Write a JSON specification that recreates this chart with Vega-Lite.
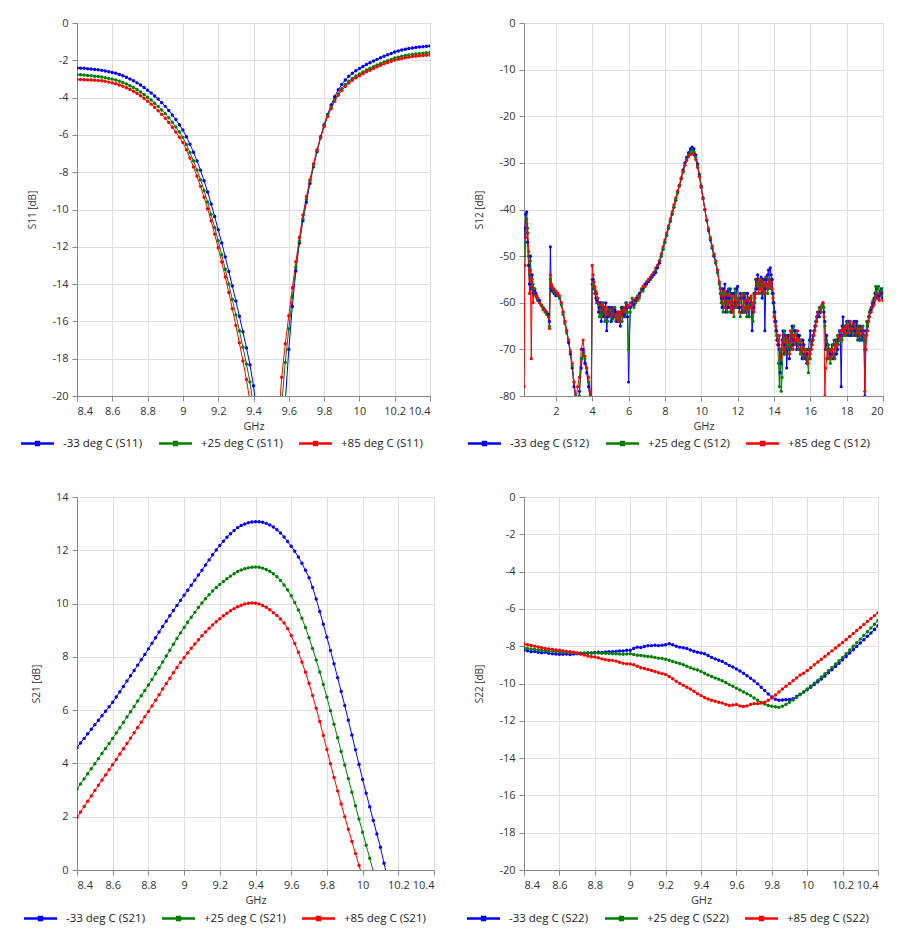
{
"$schema": "https://vega.github.io/schema/vega-lite/v6.json",
"background": "white",
"padding": {"left": 20, "top": 16, "right": 4, "bottom": 0},
"columns": 2,
"spacing": {"row": 40, "column": 31},
"resolve": {"scale": {"color": "independent", "x": "independent", "y": "independent"}, "legend": {"color": "independent"}},
"config": {
  "font": "Open Sans",
  "view": {"stroke": "#999", "strokeWidth": 1},
  "axis": {"labelFont": "Open Sans", "labelFontSize": 11, "labelColor": "#333", "titleFont": "Open Sans", "titleFontSize": 11, "titleFontWeight": "normal", "titleColor": "#333", "gridColor": "#dedede", "gridWidth": 1, "domainColor": "#888", "tickColor": "#888", "tickSize": 5, "labelPadding": 4, "labelExpr": "replace(datum.label, '−', '-')"},
  "axisY": {"titleFontSize": 10, "titlePadding": 14},
  "axisX": {"titlePadding": 4},
  "legend": {"labelFont": "Open Sans", "labelFontSize": 11.5, "labelColor": "#222", "labelOffset": 9, "columnPadding": 16}
},
"concat": [
{
  "width": 353, "height": 373,
  "data": {"values": [
{"f":8.40,"a":-2.41,"b":-2.77,"c":-3.03},{"f":8.42,"a":-2.42,"b":-2.78,"c":-3.03},{"f":8.44,"a":-2.43,"b":-2.79,"c":-3.04},{"f":8.46,"a":-2.45,"b":-2.81,"c":-3.05},{"f":8.48,"a":-2.47,"b":-2.83,"c":-3.06},{"f":8.50,"a":-2.49,"b":-2.85,"c":-3.07},{"f":8.52,"a":-2.51,"b":-2.87,"c":-3.08},{"f":8.54,"a":-2.54,"b":-2.90,"c":-3.10},{"f":8.56,"a":-2.57,"b":-2.93,"c":-3.13},{"f":8.58,"a":-2.61,"b":-2.97,"c":-3.17},
{"f":8.60,"a":-2.65,"b":-3.01,"c":-3.21},{"f":8.62,"a":-2.70,"b":-3.06,"c":-3.26},{"f":8.64,"a":-2.76,"b":-3.12,"c":-3.32},{"f":8.66,"a":-2.83,"b":-3.19,"c":-3.39},{"f":8.68,"a":-2.91,"b":-3.27,"c":-3.47},{"f":8.70,"a":-3.00,"b":-3.36,"c":-3.56},{"f":8.72,"a":-3.10,"b":-3.46,"c":-3.66},{"f":8.74,"a":-3.21,"b":-3.57,"c":-3.77},{"f":8.76,"a":-3.33,"b":-3.70,"c":-3.90},{"f":8.78,"a":-3.46,"b":-3.83,"c":-4.04},
{"f":8.80,"a":-3.60,"b":-3.98,"c":-4.19},{"f":8.82,"a":-3.75,"b":-4.13,"c":-4.35},{"f":8.84,"a":-3.91,"b":-4.30,"c":-4.52},{"f":8.86,"a":-4.08,"b":-4.47,"c":-4.70},{"f":8.88,"a":-4.27,"b":-4.66,"c":-4.90},{"f":8.90,"a":-4.47,"b":-4.86,"c":-5.11},{"f":8.92,"a":-4.69,"b":-5.08,"c":-5.34},{"f":8.94,"a":-4.93,"b":-5.32,"c":-5.59},{"f":8.96,"a":-5.18,"b":-5.58,"c":-5.85},{"f":8.98,"a":-5.45,"b":-5.85,"c":-6.12},
{"f":9.00,"a":-5.74,"b":-6.14,"c":-6.41},{"f":9.02,"a":-6.10,"b":-6.52,"c":-6.80},{"f":9.04,"a":-6.50,"b":-6.94,"c":-7.24},{"f":9.06,"a":-6.93,"b":-7.39,"c":-7.72},{"f":9.08,"a":-7.40,"b":-7.88,"c":-8.22},{"f":9.10,"a":-7.90,"b":-8.40,"c":-8.76},{"f":9.12,"a":-8.46,"b":-8.98,"c":-9.34},{"f":9.14,"a":-9.06,"b":-9.60,"c":-9.96},{"f":9.16,"a":-9.70,"b":-10.26,"c":-10.62},{"f":9.18,"a":-10.38,"b":-10.96,"c":-11.32},
{"f":9.20,"a":-11.08,"b":-11.68,"c":-12.05},{"f":9.22,"a":-11.80,"b":-12.43,"c":-12.82},{"f":9.24,"a":-12.55,"b":-13.20,"c":-13.62},{"f":9.26,"a":-13.32,"b":-14.00,"c":-14.45},{"f":9.28,"a":-14.10,"b":-14.82,"c":-15.32},{"f":9.30,"a":-14.90,"b":-15.65,"c":-16.22},{"f":9.32,"a":-15.72,"b":-16.50,"c":-17.15},{"f":9.34,"a":-16.56,"b":-17.38,"c":-18.12},{"f":9.36,"a":-17.42,"b":-18.28,"c":-19.12},{"f":9.38,"a":-18.32,"b":-19.25,"c":-20.3},
{"f":9.40,"a":-19.45,"b":-20.6,"c":-23},{"f":9.42,"a":-21,"b":-23,"c":-26},{"f":9.44,"a":-23,"b":-26,"c":-29},{"f":9.46,"a":-26,"b":-29,"c":-31},{"f":9.48,"a":-29,"b":-31,"c":-32},{"f":9.50,"a":-30,"b":-30,"c":-30},{"f":9.52,"a":-28,"b":-27,"c":-26},{"f":9.54,"a":-25,"b":-23,"c":-21.5},{"f":9.56,"a":-22.5,"b":-20.4,"c":-19.0},{"f":9.58,"a":-20.3,"b":-18.2,"c":-17.2},
{"f":9.60,"a":-17.5,"b":-16.4,"c":-15.7},{"f":9.62,"a":-15.2,"b":-14.7,"c":-14.2},{"f":9.64,"a":-13.3,"b":-13.1,"c":-12.8},{"f":9.66,"a":-11.8,"b":-11.7,"c":-11.5},{"f":9.68,"a":-10.6,"b":-10.5,"c":-10.3},{"f":9.70,"a":-9.6,"b":-9.45,"c":-9.3},{"f":9.72,"a":-8.6,"b":-8.5,"c":-8.4},{"f":9.74,"a":-7.7,"b":-7.65,"c":-7.55},{"f":9.76,"a":-6.9,"b":-6.85,"c":-6.8},{"f":9.78,"a":-6.1,"b":-6.15,"c":-6.15},
{"f":9.80,"a":-5.45,"b":-5.5,"c":-5.55},{"f":9.82,"a":-4.9,"b":-4.95,"c":-5.02},{"f":9.84,"a":-4.4,"b":-4.5,"c":-4.58},{"f":9.86,"a":-3.95,"b":-4.12,"c":-4.2},{"f":9.88,"a":-3.58,"b":-3.8,"c":-3.88},{"f":9.90,"a":-3.30,"b":-3.52,"c":-3.62},{"f":9.92,"a":-3.06,"b":-3.3,"c":-3.4},{"f":9.94,"a":-2.86,"b":-3.12,"c":-3.22},{"f":9.96,"a":-2.70,"b":-2.97,"c":-3.07},{"f":9.98,"a":-2.56,"b":-2.84,"c":-2.94},
{"f":10.00,"a":-2.44,"b":-2.73,"c":-2.83},{"f":10.02,"a":-2.33,"b":-2.62,"c":-2.72},{"f":10.04,"a":-2.23,"b":-2.52,"c":-2.62},{"f":10.06,"a":-2.13,"b":-2.43,"c":-2.53},{"f":10.08,"a":-2.04,"b":-2.34,"c":-2.44},{"f":10.10,"a":-1.95,"b":-2.25,"c":-2.35},{"f":10.12,"a":-1.86,"b":-2.17,"c":-2.27},{"f":10.14,"a":-1.78,"b":-2.09,"c":-2.19},{"f":10.16,"a":-1.70,"b":-2.02,"c":-2.12},{"f":10.18,"a":-1.63,"b":-1.95,"c":-2.05},
{"f":10.20,"a":-1.56,"b":-1.88,"c":-1.99},{"f":10.22,"a":-1.50,"b":-1.83,"c":-1.94},{"f":10.24,"a":-1.45,"b":-1.78,"c":-1.90},{"f":10.26,"a":-1.41,"b":-1.74,"c":-1.86},{"f":10.28,"a":-1.37,"b":-1.71,"c":-1.83},{"f":10.30,"a":-1.34,"b":-1.68,"c":-1.80},{"f":10.32,"a":-1.31,"b":-1.66,"c":-1.78},{"f":10.34,"a":-1.29,"b":-1.64,"c":-1.76},{"f":10.36,"a":-1.27,"b":-1.62,"c":-1.74},{"f":10.38,"a":-1.25,"b":-1.60,"c":-1.73},{"f":10.40,"a":-1.23,"b":-1.58,"c":-1.72}
  ]},
  "transform": [{"fold": ["a", "b", "c"], "as": ["k", "v"]}],
  "encoding": {
    "x": {"field": "f", "type": "quantitative", "scale": {"domain": [8.4, 10.4], "nice": false, "zero": false}, "axis": {"values": [8.4,8.6,8.8,9,9.2,9.4,9.6,9.8,10,10.2,10.4], "format": "~g", "title": "GHz"}},
    "y": {"field": "v", "type": "quantitative", "scale": {"domain": [-20, 0], "nice": false}, "axis": {"values": [0,-2,-4,-6,-8,-10,-12,-14,-16,-18,-20], "title": "S11 [dB]"}},
    "color": {"field": "k", "type": "nominal", "scale": {"domain": ["a","b","c"], "range": ["#0000ff","#008000","#ff0000"]}, "legend": {"orient": "none", "legendX": -56, "legendY": 404, "direction": "horizontal", "title": null, "symbolType": "M-1,-0.08H1V0.08H-1Z M-0.16,-0.16H0.16V0.16H-0.16Z", "symbolSize": 1089, "symbolStrokeWidth": 0, "labelExpr": "datum.label == 'a' ? '-33 deg C (S11)' : datum.label == 'b' ? '+25 deg C (S11)' : '+85 deg C (S11)'", "encode": {"symbols": {"update": {"fill": {"signal": "datum.value == 'a' ? '#0000ff' : datum.value == 'b' ? '#008000' : '#ff0000'"}, "opacity": {"value": 1}}}}}}
  },
  "layer": [
    {"mark": {"type": "line", "clip": true, "strokeWidth": 1}},
    {"mark": {"type": "point", "clip": true, "filled": true, "size": 12, "opacity": 1}}
  ]
},
{
  "width": 359, "height": 373,
  "data": {"values": [
{"f":0.25,"a":-46,"b":-50,"c":-78},{"f":0.30,"a":-44,"b":-47,"c":-52},{"f":0.35,"a":-41,"b":-45,"c":-46},{"f":0.40,"a":-40.5,"b":-42,"c":-43},{"f":0.45,"a":-47,"b":-44,"c":-45},{"f":0.50,"a":-52,"b":-50,"c":-49},{"f":0.55,"a":-56,"b":-54,"c":-58},{"f":0.60,"a":-50,"b":-51,"c":-53},{"f":0.65,"a":-57,"b":-55,"c":-72},{"f":0.70,"a":-54,"b":-57,"c":-55},{"f":0.75,"a":-58,"b":-56,"c":-60},{"f":0.80,"a":-57,"b":-58,"c":-57},
{"f":0.85,"a":-57.5,"b":-57,"c":-58},{"f":0.9,"a":-58,"b":-58.5,"c":-58.5},{"f":0.95,"a":-58.5,"b":-59,"c":-58.5},{"f":1.0,"a":-59,"b":-59.5,"c":-59},{"f":1.1,"a":-59.5,"b":-60,"c":-60},{"f":1.2,"a":-60.5,"b":-60.5,"c":-60.5},{"f":1.3,"a":-61,"b":-61,"c":-61.5},{"f":1.4,"a":-61.5,"b":-62,"c":-61.5},{"f":1.5,"a":-62,"b":-62.5,"c":-62},{"f":1.6,"a":-62.5,"b":-63,"c":-63},{"f":1.65,"a":-64,"b":-65,"c":-65.5},{"f":1.7,"a":-48,"b":-55,"c":-54},{"f":1.75,"a":-57,"b":-56,"c":-56},
{"f":1.8,"a":-57.5,"b":-57,"c":-56.5},{"f":1.9,"a":-58,"b":-57.5,"c":-57},{"f":2.0,"a":-58.5,"b":-58,"c":-57.5},{"f":2.1,"a":-58,"b":-58.5,"c":-58},{"f":2.2,"a":-59,"b":-59,"c":-58.5},{"f":2.3,"a":-60,"b":-60.5,"c":-60},{"f":2.4,"a":-62,"b":-62.5,"c":-62},{"f":2.5,"a":-64,"b":-64.5,"c":-64},{"f":2.6,"a":-66,"b":-66.5,"c":-66},{"f":2.7,"a":-68.5,"b":-68,"c":-68},{"f":2.8,"a":-71,"b":-70.5,"c":-70.5},{"f":2.9,"a":-74,"b":-73.5,"c":-73},
{"f":3.0,"a":-78,"b":-77,"c":-77},{"f":3.1,"a":-81,"b":-80,"c":-81},{"f":3.2,"a":-82,"b":-81,"c":-78},{"f":3.3,"a":-79,"b":-80,"c":-76},{"f":3.4,"a":-74,"b":-72,"c":-70},{"f":3.5,"a":-70,"b":-71,"c":-68},{"f":3.6,"a":-73,"b":-72,"c":-71.5},{"f":3.7,"a":-75,"b":-74,"c":-74},{"f":3.8,"a":-78,"b":-77,"c":-76},{"f":3.9,"a":-81,"b":-80,"c":-79},{"f":3.95,"a":-82,"b":-81,"c":-81},
{"f":4.0,"a":-56,"b":-55,"c":-52},{"f":4.05,"a":-55,"b":-56,"c":-54},{"f":4.1,"a":-57,"b":-56.5,"c":-55.5},{"f":4.15,"a":-58,"b":-57,"c":-56.5},{"f":4.2,"a":-59,"b":-58,"c":-57.5},{"f":4.25,"a":-59.5,"b":-60,"c":-58},{"f":4.3,"a":-60,"b":-59,"c":-59},{"f":4.35,"a":-62,"b":-60,"c":-60},{"f":4.4,"a":-61,"b":-63,"c":-60},{"f":4.45,"a":-60,"b":-62.5,"c":-61.5},{"f":4.5,"a":-64,"b":-61,"c":-60.5},{"f":4.55,"a":-61,"b":-63,"c":-60},{"f":4.6,"a":-62,"b":-60,"c":-61},{"f":4.65,"a":-63,"b":-61,"c":-62},{"f":4.7,"a":-61,"b":-64,"c":-61},{"f":4.75,"a":-60,"b":-62,"c":-63},{"f":4.8,"a":-66,"b":-62,"c":-62},{"f":4.85,"a":-63,"b":-64,"c":-61},{"f":4.9,"a":-62,"b":-61,"c":-61.5},{"f":4.95,"a":-61,"b":-61.5,"c":-62.5},
{"f":5.0,"a":-62.5,"b":-63,"c":-62},{"f":5.05,"a":-64,"b":-62,"c":-61.5},{"f":5.1,"a":-61,"b":-62,"c":-62.5},{"f":5.15,"a":-62,"b":-63.5,"c":-63},{"f":5.2,"a":-63,"b":-62,"c":-61},{"f":5.25,"a":-61.5,"b":-61,"c":-62},{"f":5.3,"a":-62,"b":-64,"c":-63},{"f":5.35,"a":-64,"b":-62.5,"c":-64},{"f":5.4,"a":-64,"b":-62,"c":-62.5},{"f":5.45,"a":-62,"b":-64,"c":-62},{"f":5.5,"a":-63,"b":-63,"c":-64},{"f":5.55,"a":-65,"b":-62,"c":-63},{"f":5.6,"a":-62,"b":-61,"c":-62},{"f":5.65,"a":-61,"b":-64,"c":-62.5},{"f":5.7,"a":-61,"b":-63,"c":-61.5},{"f":5.75,"a":-62.5,"b":-61,"c":-63},{"f":5.8,"a":-63,"b":-62,"c":-61},{"f":5.85,"a":-60,"b":-63,"c":-61.5},{"f":5.9,"a":-61,"b":-60,"c":-62},{"f":5.95,"a":-63,"b":-62,"c":-60.5},
{"f":6.0,"a":-77,"b":-70,"c":-61},{"f":6.1,"a":-61,"b":-62,"c":-60},{"f":6.2,"a":-60,"b":-59,"c":-60.5},{"f":6.3,"a":-60.5,"b":-61,"c":-59.5},{"f":6.4,"a":-59.5,"b":-60,"c":-59},{"f":6.5,"a":-59,"b":-58.5,"c":-59.5},{"f":6.6,"a":-58,"b":-59,"c":-58.5},{"f":6.7,"a":-57.5,"b":-57,"c":-57.5},{"f":6.8,"a":-57,"b":-57.5,"c":-56.5},{"f":6.9,"a":-56,"b":-56.5,"c":-56.5},
{"f":7.0,"a":-56,"b":-55.5,"c":-55.5},{"f":7.1,"a":-55.5,"b":-55,"c":-55},{"f":7.2,"a":-55,"b":-54.5,"c":-54.5},{"f":7.3,"a":-54.5,"b":-54,"c":-54},{"f":7.4,"a":-54,"b":-53.5,"c":-53.5},{"f":7.5,"a":-53.5,"b":-53,"c":-52.5},{"f":7.6,"a":-52.5,"b":-52,"c":-52},{"f":7.7,"a":-51.5,"b":-51,"c":-51},{"f":7.8,"a":-50,"b":-50,"c":-49.5},{"f":7.9,"a":-48.5,"b":-48.5,"c":-48},
{"f":8.0,"a":-47,"b":-47,"c":-46.5},{"f":8.1,"a":-45.5,"b":-45.5,"c":-45},{"f":8.2,"a":-44,"b":-44,"c":-43.5},{"f":8.3,"a":-42.5,"b":-42.5,"c":-42},{"f":8.4,"a":-41,"b":-41,"c":-40.5},{"f":8.5,"a":-39.5,"b":-39.5,"c":-39},{"f":8.6,"a":-38,"b":-38,"c":-37.5},{"f":8.7,"a":-36.3,"b":-36.5,"c":-36},{"f":8.8,"a":-34.8,"b":-35,"c":-34.8},{"f":8.9,"a":-33.2,"b":-33.5,"c":-33.3},
{"f":9.0,"a":-31.5,"b":-32,"c":-31.8},{"f":9.1,"a":-30,"b":-30.5,"c":-30.5},{"f":9.2,"a":-28.8,"b":-29.3,"c":-29.5},{"f":9.3,"a":-27.8,"b":-28.3,"c":-28.7},{"f":9.4,"a":-27,"b":-27.6,"c":-28.2},{"f":9.5,"a":-26.6,"b":-27.3,"c":-28},{"f":9.6,"a":-27,"b":-27.6,"c":-28.3},{"f":9.7,"a":-28.3,"b":-28.8,"c":-29.3},{"f":9.8,"a":-30.2,"b":-30.6,"c":-31},{"f":9.9,"a":-32.5,"b":-32.8,"c":-33},
{"f":10.0,"a":-35,"b":-35.2,"c":-35.3},{"f":10.1,"a":-37.5,"b":-37.6,"c":-37.7},{"f":10.2,"a":-40,"b":-40,"c":-40},{"f":10.3,"a":-42.3,"b":-42.3,"c":-42.2},{"f":10.4,"a":-44.5,"b":-44.3,"c":-44.2},{"f":10.5,"a":-46.5,"b":-46.3,"c":-46},{"f":10.6,"a":-48.3,"b":-48.2,"c":-47.8},{"f":10.7,"a":-50,"b":-49.8,"c":-49.5},{"f":10.8,"a":-51.5,"b":-51.5,"c":-51},{"f":10.9,"a":-53.5,"b":-53.5,"c":-53},
{"f":11.0,"a":-56,"b":-56,"c":-55.5},{"f":11.05,"a":-57,"b":-58,"c":-57},{"f":11.1,"a":-59,"b":-60,"c":-58.5},{"f":11.15,"a":-61,"b":-57,"c":-60},{"f":11.2,"a":-57,"b":-62,"c":-59},{"f":11.25,"a":-59,"b":-60,"c":-57.5},{"f":11.3,"a":-56,"b":-58,"c":-61},{"f":11.35,"a":-62,"b":-59,"c":-59},{"f":11.4,"a":-59,"b":-61,"c":-58},{"f":11.45,"a":-57.5,"b":-62,"c":-61},{"f":11.5,"a":-61,"b":-57,"c":-60},{"f":11.55,"a":-59,"b":-58,"c":-58.5},{"f":11.6,"a":-57,"b":-60,"c":-62},{"f":11.65,"a":-60,"b":-62,"c":-60},{"f":11.7,"a":-62,"b":-59,"c":-58},{"f":11.75,"a":-58,"b":-60,"c":-62},{"f":11.8,"a":-58,"b":-63,"c":-60},{"f":11.85,"a":-61,"b":-57,"c":-58.5},{"f":11.9,"a":-60,"b":-58,"c":-61},{"f":11.95,"a":-57,"b":-61,"c":-60},
{"f":12.0,"a":-56.5,"b":-61,"c":-59},{"f":12.05,"a":-60,"b":-59,"c":-61},{"f":12.1,"a":-61,"b":-60,"c":-62},{"f":12.15,"a":-58,"b":-63,"c":-59},{"f":12.2,"a":-59,"b":-62,"c":-58.5},{"f":12.25,"a":-61,"b":-59,"c":-62},{"f":12.3,"a":-62,"b":-58,"c":-61},{"f":12.35,"a":-59,"b":-62,"c":-58},{"f":12.4,"a":-58,"b":-61,"c":-60},{"f":12.45,"a":-62,"b":-58,"c":-61},{"f":12.5,"a":-60,"b":-63,"c":-62},{"f":12.55,"a":-58,"b":-61,"c":-59.5},{"f":12.6,"a":-63,"b":-59,"c":-59},{"f":12.65,"a":-61,"b":-63,"c":-61},{"f":12.7,"a":-59,"b":-60.5,"c":-61},{"f":12.75,"a":-60,"b":-59,"c":-58.5},{"f":12.8,"a":-66,"b":-62,"c":-60},{"f":12.85,"a":-62,"b":-64,"c":-61.5},{"f":12.9,"a":-61,"b":-58,"c":-62},{"f":12.95,"a":-58,"b":-60,"c":-59},
{"f":13.0,"a":-55,"b":-57,"c":-58},{"f":13.05,"a":-57,"b":-55,"c":-56},{"f":13.1,"a":-54,"b":-56,"c":-55},{"f":13.15,"a":-55,"b":-58,"c":-58},{"f":13.2,"a":-57,"b":-55,"c":-57},{"f":13.25,"a":-56,"b":-56,"c":-55},{"f":13.3,"a":-54.5,"b":-58,"c":-56},{"f":13.35,"a":-59,"b":-55,"c":-57.5},{"f":13.4,"a":-58,"b":-56,"c":-55},{"f":13.45,"a":-55,"b":-58,"c":-56},{"f":13.5,"a":-66,"b":-57,"c":-58},{"f":13.55,"a":-57,"b":-56,"c":-54.5},{"f":13.6,"a":-55,"b":-54.5,"c":-56},{"f":13.65,"a":-54,"b":-58,"c":-57},{"f":13.7,"a":-53,"b":-57,"c":-55},{"f":13.75,"a":-56,"b":-55,"c":-56},{"f":13.8,"a":-52.5,"b":-55,"c":-56.5},{"f":13.85,"a":-54,"b":-57,"c":-55},{"f":13.9,"a":-55,"b":-58,"c":-57},{"f":13.95,"a":-58,"b":-60,"c":-59},
{"f":14.0,"a":-60,"b":-62,"c":-63},{"f":14.05,"a":-62,"b":-64,"c":-64},{"f":14.1,"a":-64,"b":-66,"c":-65},{"f":14.15,"a":-66,"b":-68,"c":-67},{"f":14.2,"a":-68,"b":-67,"c":-69},{"f":14.25,"a":-69,"b":-73,"c":-68},{"f":14.3,"a":-70,"b":-78,"c":-67},{"f":14.35,"a":-75,"b":-70,"c":-72},{"f":14.4,"a":-73,"b":-79,"c":-70},{"f":14.45,"a":-68,"b":-76,"c":-69},{"f":14.5,"a":-66,"b":-70,"c":-68},{"f":14.55,"a":-71,"b":-68,"c":-67},{"f":14.6,"a":-69,"b":-66,"c":-71},{"f":14.65,"a":-67,"b":-71,"c":-70},{"f":14.7,"a":-74,"b":-69,"c":-67},{"f":14.75,"a":-70,"b":-67,"c":-68},{"f":14.8,"a":-67,"b":-70,"c":-69},{"f":14.85,"a":-72,"b":-69,"c":-71},{"f":14.9,"a":-70,"b":-67,"c":-66},{"f":14.95,"a":-68,"b":-70,"c":-67},
{"f":15.0,"a":-65,"b":-68,"c":-68},{"f":15.05,"a":-69,"b":-66,"c":-70},{"f":15.1,"a":-68,"b":-65,"c":-67},{"f":15.15,"a":-66,"b":-69,"c":-68},{"f":15.2,"a":-66,"b":-69,"c":-69},{"f":15.25,"a":-70,"b":-67,"c":-67},{"f":15.3,"a":-69,"b":-67,"c":-66},{"f":15.35,"a":-67,"b":-69,"c":-70},{"f":15.4,"a":-67,"b":-70,"c":-68},{"f":15.45,"a":-69,"b":-71,"c":-68},{"f":15.5,"a":-70,"b":-68,"c":-70},{"f":15.55,"a":-72,"b":-68,"c":-71},{"f":15.6,"a":-68,"b":-71,"c":-69},{"f":15.65,"a":-69,"b":-72,"c":-70},{"f":15.7,"a":-71,"b":-70,"c":-72},{"f":15.75,"a":-72,"b":-70,"c":-71},{"f":15.8,"a":-73,"b":-72,"c":-70},{"f":15.85,"a":-71,"b":-73,"c":-73},{"f":15.9,"a":-70,"b":-75,"c":-72},{"f":15.95,"a":-68,"b":-70,"c":-71},
{"f":16.0,"a":-66,"b":-72,"c":-71},{"f":16.05,"a":-70,"b":-68,"c":-70},{"f":16.1,"a":-68,"b":-69,"c":-69},{"f":16.15,"a":-67,"b":-68,"c":-68},{"f":16.2,"a":-66,"b":-66,"c":-67},{"f":16.25,"a":-65,"b":-66,"c":-66},{"f":16.3,"a":-64,"b":-64,"c":-65},{"f":16.35,"a":-63,"b":-64,"c":-64},{"f":16.4,"a":-62,"b":-63,"c":-63},{"f":16.45,"a":-63,"b":-62,"c":-62.5},{"f":16.5,"a":-63,"b":-61,"c":-62},{"f":16.55,"a":-62,"b":-61,"c":-61.5},{"f":16.6,"a":-61,"b":-62,"c":-61},{"f":16.65,"a":-60.5,"b":-61,"c":-60.5},{"f":16.7,"a":-60,"b":-60.5,"c":-60},{"f":16.75,"a":-62,"b":-61,"c":-63},{"f":16.8,"a":-64,"b":-65,"c":-80},{"f":16.85,"a":-70,"b":-68,"c":-74},{"f":16.9,"a":-67,"b":-70,"c":-72},{"f":16.95,"a":-69,"b":-72,"c":-70},
{"f":17.0,"a":-70,"b":-69,"c":-70},{"f":17.05,"a":-72,"b":-70,"c":-72},{"f":17.1,"a":-71,"b":-73,"c":-71.5},{"f":17.15,"a":-70,"b":-72,"c":-70},{"f":17.2,"a":-69,"b":-70,"c":-70},{"f":17.25,"a":-71,"b":-69,"c":-72},{"f":17.3,"a":-72,"b":-68,"c":-71},{"f":17.35,"a":-69,"b":-72,"c":-69},{"f":17.4,"a":-68,"b":-71,"c":-69},{"f":17.45,"a":-71,"b":-68,"c":-70},{"f":17.5,"a":-70,"b":-67,"c":-68},{"f":17.55,"a":-68,"b":-69,"c":-67},{"f":17.6,"a":-66,"b":-68,"c":-67},{"f":17.65,"a":-67,"b":-66,"c":-68},{"f":17.7,"a":-78,"b":-66,"c":-66},{"f":17.75,"a":-65,"b":-68,"c":-66},{"f":17.8,"a":-63,"b":-67,"c":-65.5},{"f":17.85,"a":-67,"b":-65,"c":-67},{"f":17.9,"a":-66,"b":-65,"c":-66},{"f":17.95,"a":-65,"b":-67,"c":-65},
{"f":18.0,"a":-64,"b":-66,"c":-65},{"f":18.05,"a":-66,"b":-64,"c":-66.5},{"f":18.1,"a":-67,"b":-64,"c":-66},{"f":18.15,"a":-64,"b":-66,"c":-65},{"f":18.2,"a":-65,"b":-67,"c":-64},{"f":18.25,"a":-67,"b":-65,"c":-66},{"f":18.3,"a":-66,"b":-65,"c":-65.5},{"f":18.35,"a":-65,"b":-67,"c":-64.5},{"f":18.4,"a":-64,"b":-66,"c":-66},{"f":18.45,"a":-66,"b":-65,"c":-67},{"f":18.5,"a":-67,"b":-64,"c":-65},{"f":18.55,"a":-64,"b":-67,"c":-65.5},{"f":18.6,"a":-65,"b":-68,"c":-66},{"f":18.65,"a":-67,"b":-65,"c":-66.5},{"f":18.7,"a":-68,"b":-66,"c":-67},{"f":18.75,"a":-65,"b":-68,"c":-66},{"f":18.8,"a":-66,"b":-67,"c":-65.5},{"f":18.85,"a":-68,"b":-66,"c":-67},{"f":18.9,"a":-67,"b":-65,"c":-66},{"f":18.95,"a":-66,"b":-68,"c":-67},
{"f":19.0,"a":-80,"b":-70,"c":-79},{"f":19.05,"a":-70,"b":-67,"c":-70},{"f":19.1,"a":-66,"b":-64,"c":-67},{"f":19.15,"a":-65,"b":-65,"c":-66},{"f":19.2,"a":-64,"b":-63,"c":-64},{"f":19.25,"a":-63,"b":-62,"c":-63},{"f":19.3,"a":-62,"b":-61.5,"c":-62},{"f":19.35,"a":-61.5,"b":-61,"c":-62},{"f":19.4,"a":-61,"b":-60,"c":-61},{"f":19.45,"a":-60.5,"b":-59.5,"c":-60},{"f":19.5,"a":-60,"b":-59,"c":-60.5},{"f":19.55,"a":-59,"b":-58,"c":-59.5},{"f":19.6,"a":-58,"b":-56.5,"c":-59},{"f":19.65,"a":-57,"b":-58,"c":-58.5},{"f":19.7,"a":-59,"b":-57,"c":-58},{"f":19.75,"a":-58.5,"b":-56.5,"c":-59},{"f":19.8,"a":-58.5,"b":-58,"c":-59.5},{"f":19.85,"a":-57.5,"b":-58,"c":-58},{"f":19.9,"a":-57,"b":-57.5,"c":-58},{"f":19.95,"a":-58,"b":-57,"c":-59},{"f":20.0,"a":-59,"b":-58.5,"c":-59.5}
  ]},
  "transform": [{"fold": ["a", "b", "c"], "as": ["k", "v"]}],
  "encoding": {
    "x": {"field": "f", "type": "quantitative", "scale": {"domain": [0.25, 20], "nice": false, "zero": false}, "axis": {"values": [2,4,6,8,10,12,14,16,18,20], "format": "~g", "title": "GHz"}},
    "y": {"field": "v", "type": "quantitative", "scale": {"domain": [-80, 0], "nice": false}, "axis": {"values": [0,-10,-20,-30,-40,-50,-60,-70,-80], "title": "S12 [dB]"}},
    "color": {"field": "k", "type": "nominal", "scale": {"domain": ["a","b","c"], "range": ["#0000ff","#008000","#ff0000"]}, "legend": {"orient": "none", "legendX": -56, "legendY": 404, "direction": "horizontal", "title": null, "symbolType": "M-1,-0.08H1V0.08H-1Z M-0.16,-0.16H0.16V0.16H-0.16Z", "symbolSize": 1089, "symbolStrokeWidth": 0, "labelExpr": "datum.label == 'a' ? '-33 deg C (S12)' : datum.label == 'b' ? '+25 deg C (S12)' : '+85 deg C (S12)'", "encode": {"symbols": {"update": {"fill": {"signal": "datum.value == 'a' ? '#0000ff' : datum.value == 'b' ? '#008000' : '#ff0000'"}, "opacity": {"value": 1}}}}}}
  },
  "layer": [
    {"mark": {"type": "line", "clip": true, "strokeWidth": 1}},
    {"mark": {"type": "point", "clip": true, "filled": true, "size": 10, "opacity": 1}}
  ]
},
{
  "width": 357, "height": 373,
  "data": {"values": [
{"f":8.40,"a":4.60,"b":3.04,"c":1.98},{"f":8.42,"a":4.77,"b":3.23,"c":2.18},{"f":8.44,"a":4.94,"b":3.42,"c":2.38},{"f":8.46,"a":5.11,"b":3.61,"c":2.58},{"f":8.48,"a":5.28,"b":3.80,"c":2.78},{"f":8.50,"a":5.45,"b":3.99,"c":2.98},{"f":8.52,"a":5.62,"b":4.18,"c":3.18},{"f":8.54,"a":5.79,"b":4.37,"c":3.38},{"f":8.56,"a":5.96,"b":4.56,"c":3.57},{"f":8.58,"a":6.13,"b":4.75,"c":3.76},
{"f":8.60,"a":6.30,"b":4.94,"c":3.95},{"f":8.62,"a":6.49,"b":5.14,"c":4.15},{"f":8.64,"a":6.69,"b":5.34,"c":4.35},{"f":8.66,"a":6.89,"b":5.54,"c":4.55},{"f":8.68,"a":7.09,"b":5.74,"c":4.75},{"f":8.70,"a":7.29,"b":5.94,"c":4.95},{"f":8.72,"a":7.49,"b":6.14,"c":5.15},{"f":8.74,"a":7.69,"b":6.34,"c":5.35},{"f":8.76,"a":7.89,"b":6.54,"c":5.55},{"f":8.78,"a":8.09,"b":6.74,"c":5.75},
{"f":8.80,"a":8.30,"b":6.94,"c":5.95},{"f":8.82,"a":8.51,"b":7.15,"c":6.16},{"f":8.84,"a":8.72,"b":7.37,"c":6.37},{"f":8.86,"a":8.93,"b":7.59,"c":6.58},{"f":8.88,"a":9.14,"b":7.81,"c":6.79},{"f":8.90,"a":9.34,"b":8.03,"c":7.00},{"f":8.92,"a":9.54,"b":8.25,"c":7.20},{"f":8.94,"a":9.74,"b":8.47,"c":7.40},{"f":8.96,"a":9.93,"b":8.69,"c":7.60},{"f":8.98,"a":10.12,"b":8.90,"c":7.79},
{"f":9.00,"a":10.31,"b":9.10,"c":7.97},{"f":9.02,"a":10.50,"b":9.30,"c":8.15},{"f":9.04,"a":10.69,"b":9.49,"c":8.32},{"f":9.06,"a":10.88,"b":9.67,"c":8.48},{"f":9.08,"a":11.07,"b":9.85,"c":8.64},{"f":9.10,"a":11.25,"b":10.02,"c":8.79},{"f":9.12,"a":11.45,"b":10.18,"c":8.93},{"f":9.14,"a":11.64,"b":10.33,"c":9.07},{"f":9.16,"a":11.83,"b":10.47,"c":9.20},{"f":9.18,"a":12.01,"b":10.60,"c":9.32},
{"f":9.20,"a":12.18,"b":10.72,"c":9.43},{"f":9.22,"a":12.34,"b":10.83,"c":9.54},{"f":9.24,"a":12.49,"b":10.93,"c":9.64},{"f":9.26,"a":12.62,"b":11.03,"c":9.73},{"f":9.28,"a":12.74,"b":11.12,"c":9.81},{"f":9.30,"a":12.85,"b":11.20,"c":9.88},{"f":9.32,"a":12.93,"b":11.26,"c":9.94},{"f":9.34,"a":12.99,"b":11.31,"c":9.98},{"f":9.36,"a":13.03,"b":11.34,"c":10.01},{"f":9.38,"a":13.06,"b":11.36,"c":10.02},
{"f":9.40,"a":13.07,"b":11.37,"c":10.01},{"f":9.42,"a":13.07,"b":11.36,"c":9.98},{"f":9.44,"a":13.05,"b":11.33,"c":9.93},{"f":9.46,"a":13.01,"b":11.28,"c":9.86},{"f":9.48,"a":12.95,"b":11.21,"c":9.77},{"f":9.50,"a":12.87,"b":11.12,"c":9.66},{"f":9.52,"a":12.77,"b":11.01,"c":9.55},{"f":9.54,"a":12.65,"b":10.87,"c":9.42},{"f":9.56,"a":12.50,"b":10.70,"c":9.27},{"f":9.58,"a":12.33,"b":10.51,"c":9.06},
{"f":9.60,"a":12.15,"b":10.29,"c":8.80},{"f":9.62,"a":11.96,"b":10.04,"c":8.50},{"f":9.64,"a":11.75,"b":9.76,"c":8.17},{"f":9.66,"a":11.51,"b":9.45,"c":7.81},{"f":9.68,"a":11.25,"b":9.10,"c":7.42},{"f":9.70,"a":10.97,"b":8.72,"c":7.00},{"f":9.72,"a":10.60,"b":8.31,"c":6.55},{"f":9.74,"a":10.17,"b":7.88,"c":6.07},{"f":9.76,"a":9.70,"b":7.43,"c":5.57},{"f":9.78,"a":9.22,"b":6.96,"c":5.05},
{"f":9.80,"a":8.74,"b":6.48,"c":4.52},{"f":9.82,"a":8.24,"b":5.98,"c":3.99},{"f":9.84,"a":7.74,"b":5.47,"c":3.47},{"f":9.86,"a":7.22,"b":4.96,"c":2.97},{"f":9.88,"a":6.70,"b":4.45,"c":2.48},{"f":9.90,"a":6.17,"b":3.94,"c":2.00},{"f":9.92,"a":5.62,"b":3.43,"c":1.53},{"f":9.94,"a":5.07,"b":2.92,"c":1.07},{"f":9.96,"a":4.51,"b":2.41,"c":0.62},{"f":9.98,"a":3.96,"b":1.91,"c":0.17},
{"f":10.00,"a":3.40,"b":1.42,"c":-0.28},{"f":10.02,"a":2.88,"b":0.93,"c":-0.73},{"f":10.04,"a":2.37,"b":0.44,"c":-1.18},{"f":10.06,"a":1.86,"b":-0.05,"c":-1.63},{"f":10.08,"a":1.35,"b":-0.54,"c":-2.08},{"f":10.10,"a":0.85,"b":-1.03,"c":-2.53},{"f":10.12,"a":0.25,"b":-1.52,"c":-2.98},{"f":10.14,"a":-0.30,"b":-2.00,"c":-3.43}
  ]},
  "transform": [{"fold": ["a", "b", "c"], "as": ["k", "v"]}],
  "encoding": {
    "x": {"field": "f", "type": "quantitative", "scale": {"domain": [8.4, 10.4], "nice": false, "zero": false}, "axis": {"values": [8.4,8.6,8.8,9,9.2,9.4,9.6,9.8,10,10.2,10.4], "format": "~g", "title": "GHz"}},
    "y": {"field": "v", "type": "quantitative", "scale": {"domain": [0, 14], "nice": false}, "axis": {"values": [0,2,4,6,8,10,12,14], "title": "S21 [dB]"}},
    "color": {"field": "k", "type": "nominal", "scale": {"domain": ["a","b","c"], "range": ["#0000ff","#008000","#ff0000"]}, "legend": {"orient": "none", "legendX": -53, "legendY": 405, "direction": "horizontal", "title": null, "symbolType": "M-1,-0.08H1V0.08H-1Z M-0.16,-0.16H0.16V0.16H-0.16Z", "symbolSize": 1089, "symbolStrokeWidth": 0, "labelExpr": "datum.label == 'a' ? '-33 deg C (S21)' : datum.label == 'b' ? '+25 deg C (S21)' : '+85 deg C (S21)'", "encode": {"symbols": {"update": {"fill": {"signal": "datum.value == 'a' ? '#0000ff' : datum.value == 'b' ? '#008000' : '#ff0000'"}, "opacity": {"value": 1}}}}}}
  },
  "layer": [
    {"mark": {"type": "line", "clip": true, "strokeWidth": 1}},
    {"mark": {"type": "point", "clip": true, "filled": true, "size": 12, "opacity": 1}}
  ]
},
{
  "width": 354, "height": 373,
  "data": {"values": [
{"f":8.40,"a":-8.20,"b":-8.08,"c":-7.88},{"f":8.42,"a":-8.25,"b":-8.12,"c":-7.92},{"f":8.44,"a":-8.30,"b":-8.15,"c":-7.96},{"f":8.46,"a":-8.28,"b":-8.18,"c":-8.00},{"f":8.48,"a":-8.33,"b":-8.20,"c":-8.04},{"f":8.50,"a":-8.35,"b":-8.22,"c":-8.08},{"f":8.52,"a":-8.33,"b":-8.24,"c":-8.12},{"f":8.54,"a":-8.38,"b":-8.26,"c":-8.15},{"f":8.56,"a":-8.40,"b":-8.27,"c":-8.18},{"f":8.58,"a":-8.42,"b":-8.29,"c":-8.20},
{"f":8.60,"a":-8.43,"b":-8.30,"c":-8.22},{"f":8.62,"a":-8.43,"b":-8.32,"c":-8.25},{"f":8.64,"a":-8.42,"b":-8.33,"c":-8.28},{"f":8.66,"a":-8.44,"b":-8.34,"c":-8.30},{"f":8.68,"a":-8.42,"b":-8.35,"c":-8.33},{"f":8.70,"a":-8.40,"b":-8.36,"c":-8.37},{"f":8.72,"a":-8.41,"b":-8.36,"c":-8.42},{"f":8.74,"a":-8.38,"b":-8.37,"c":-8.47},{"f":8.76,"a":-8.36,"b":-8.37,"c":-8.52},{"f":8.78,"a":-8.37,"b":-8.37,"c":-8.56},
{"f":8.80,"a":-8.34,"b":-8.37,"c":-8.58},{"f":8.82,"a":-8.33,"b":-8.37,"c":-8.62},{"f":8.84,"a":-8.34,"b":-8.38,"c":-8.68},{"f":8.86,"a":-8.31,"b":-8.38,"c":-8.73},{"f":8.88,"a":-8.30,"b":-8.39,"c":-8.75},{"f":8.90,"a":-8.30,"b":-8.40,"c":-8.76},{"f":8.92,"a":-8.28,"b":-8.41,"c":-8.80},{"f":8.94,"a":-8.25,"b":-8.42,"c":-8.86},{"f":8.96,"a":-8.26,"b":-8.43,"c":-8.92},{"f":8.98,"a":-8.22,"b":-8.42,"c":-8.94},
{"f":9.00,"a":-8.22,"b":-8.40,"c":-8.95},{"f":9.02,"a":-8.12,"b":-8.45,"c":-9.00},{"f":9.04,"a":-8.05,"b":-8.48,"c":-9.08},{"f":9.06,"a":-8.07,"b":-8.50,"c":-9.15},{"f":9.08,"a":-8.02,"b":-8.52,"c":-9.20},{"f":9.10,"a":-7.98,"b":-8.55,"c":-9.25},{"f":9.12,"a":-7.97,"b":-8.57,"c":-9.30},{"f":9.14,"a":-7.95,"b":-8.60,"c":-9.36},{"f":9.16,"a":-7.97,"b":-8.64,"c":-9.42},{"f":9.18,"a":-7.95,"b":-8.66,"c":-9.47},
{"f":9.20,"a":-7.92,"b":-8.70,"c":-9.52},{"f":9.22,"a":-7.87,"b":-8.75,"c":-9.62},{"f":9.24,"a":-7.92,"b":-8.82,"c":-9.75},{"f":9.26,"a":-8.00,"b":-8.88,"c":-9.88},{"f":9.28,"a":-8.05,"b":-8.93,"c":-10.00},{"f":9.30,"a":-8.08,"b":-9.00,"c":-10.10},{"f":9.32,"a":-8.12,"b":-9.08,"c":-10.20},{"f":9.34,"a":-8.20,"b":-9.15,"c":-10.30},{"f":9.36,"a":-8.27,"b":-9.22,"c":-10.42},{"f":9.38,"a":-8.33,"b":-9.28,"c":-10.55},
{"f":9.40,"a":-8.36,"b":-9.35,"c":-10.65},{"f":9.42,"a":-8.40,"b":-9.45,"c":-10.75},{"f":9.44,"a":-8.50,"b":-9.55,"c":-10.83},{"f":9.46,"a":-8.60,"b":-9.62,"c":-10.90},{"f":9.48,"a":-8.68,"b":-9.70,"c":-10.95},{"f":9.50,"a":-8.75,"b":-9.77,"c":-11.00},{"f":9.52,"a":-8.82,"b":-9.85,"c":-11.05},{"f":9.54,"a":-8.92,"b":-9.95,"c":-11.12},{"f":9.56,"a":-9.03,"b":-10.06,"c":-11.18},{"f":9.58,"a":-9.12,"b":-10.15,"c":-11.15},
{"f":9.60,"a":-9.22,"b":-10.25,"c":-11.12},{"f":9.62,"a":-9.33,"b":-10.35,"c":-11.20},{"f":9.64,"a":-9.45,"b":-10.45,"c":-11.23},{"f":9.66,"a":-9.58,"b":-10.55,"c":-11.20},{"f":9.68,"a":-9.72,"b":-10.65,"c":-11.12},{"f":9.70,"a":-9.86,"b":-10.78,"c":-11.08},{"f":9.72,"a":-10.02,"b":-10.90,"c":-11.08},{"f":9.74,"a":-10.20,"b":-11.02,"c":-11.05},{"f":9.76,"a":-10.38,"b":-11.10,"c":-11.00},{"f":9.78,"a":-10.56,"b":-11.18,"c":-10.90},
{"f":9.80,"a":-10.72,"b":-11.22,"c":-10.78},{"f":9.82,"a":-10.85,"b":-11.25,"c":-10.62},{"f":9.84,"a":-10.90,"b":-11.28,"c":-10.45},{"f":9.86,"a":-10.88,"b":-11.22,"c":-10.30},{"f":9.88,"a":-10.87,"b":-11.12,"c":-10.15},{"f":9.90,"a":-10.86,"b":-11.00,"c":-10.00},{"f":9.92,"a":-10.82,"b":-10.88,"c":-9.85},{"f":9.94,"a":-10.70,"b":-10.75,"c":-9.70},{"f":9.96,"a":-10.58,"b":-10.60,"c":-9.55},{"f":9.98,"a":-10.46,"b":-10.45,"c":-9.45},
{"f":10.00,"a":-10.34,"b":-10.30,"c":-9.30},{"f":10.02,"a":-10.20,"b":-10.14,"c":-9.15},{"f":10.04,"a":-10.06,"b":-9.98,"c":-9.00},{"f":10.06,"a":-9.91,"b":-9.82,"c":-8.85},{"f":10.08,"a":-9.76,"b":-9.65,"c":-8.70},{"f":10.10,"a":-9.60,"b":-9.48,"c":-8.55},{"f":10.12,"a":-9.43,"b":-9.31,"c":-8.40},{"f":10.14,"a":-9.26,"b":-9.14,"c":-8.25},{"f":10.16,"a":-9.09,"b":-8.96,"c":-8.10},{"f":10.18,"a":-8.91,"b":-8.78,"c":-7.95},
{"f":10.20,"a":-8.73,"b":-8.60,"c":-7.80},{"f":10.22,"a":-8.55,"b":-8.40,"c":-7.64},{"f":10.24,"a":-8.37,"b":-8.20,"c":-7.48},{"f":10.26,"a":-8.19,"b":-8.00,"c":-7.32},{"f":10.28,"a":-8.01,"b":-7.81,"c":-7.16},{"f":10.30,"a":-7.83,"b":-7.62,"c":-7.00},{"f":10.32,"a":-7.65,"b":-7.42,"c":-6.84},{"f":10.34,"a":-7.47,"b":-7.22,"c":-6.68},{"f":10.36,"a":-7.29,"b":-7.02,"c":-6.52},{"f":10.38,"a":-7.10,"b":-6.82,"c":-6.36},{"f":10.40,"a":-6.90,"b":-6.62,"c":-6.20}
  ]},
  "transform": [{"fold": ["a", "b", "c"], "as": ["k", "v"]}],
  "encoding": {
    "x": {"field": "f", "type": "quantitative", "scale": {"domain": [8.4, 10.4], "nice": false, "zero": false}, "axis": {"values": [8.4,8.6,8.8,9,9.2,9.4,9.6,9.8,10,10.2,10.4], "format": "~g", "title": "GHz"}},
    "y": {"field": "v", "type": "quantitative", "scale": {"domain": [-20, 0], "nice": false}, "axis": {"values": [0,-2,-4,-6,-8,-10,-12,-14,-16,-18,-20], "title": "S22 [dB]"}},
    "color": {"field": "k", "type": "nominal", "scale": {"domain": ["a","b","c"], "range": ["#0000ff","#008000","#ff0000"]}, "legend": {"orient": "none", "legendX": -57, "legendY": 405, "direction": "horizontal", "title": null, "symbolType": "M-1,-0.08H1V0.08H-1Z M-0.16,-0.16H0.16V0.16H-0.16Z", "symbolSize": 1089, "symbolStrokeWidth": 0, "labelExpr": "datum.label == 'a' ? '-33 deg C (S22)' : datum.label == 'b' ? '+25 deg C (S22)' : '+85 deg C (S22)'", "encode": {"symbols": {"update": {"fill": {"signal": "datum.value == 'a' ? '#0000ff' : datum.value == 'b' ? '#008000' : '#ff0000'"}, "opacity": {"value": 1}}}}}}
  },
  "layer": [
    {"mark": {"type": "line", "clip": true, "strokeWidth": 1}},
    {"mark": {"type": "point", "clip": true, "filled": true, "size": 12, "opacity": 1}}
  ]
}
]
}
